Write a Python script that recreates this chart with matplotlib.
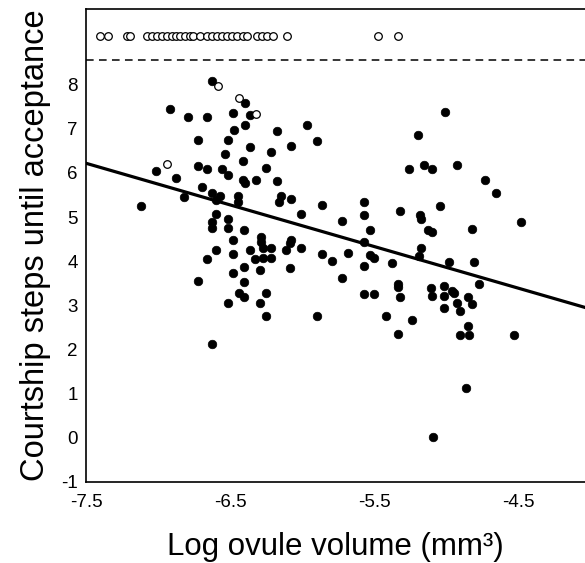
import matplotlib
matplotlib.use("Agg")
import matplotlib.pyplot as plt
import numpy as np

plt.rcParams['font.family'] = ['Liberation Sans', 'DejaVu Sans']
plt.rcParams['axes.unicode_minus'] = False

# Filled circles: females that accepted (log ovule volume, courtship steps)
filled_x = [-6.627, -6.915, -6.790, -6.660, -6.477, -6.396, -6.359, -6.474, -6.396, -6.722,
            -6.512, -6.359, -6.533, -6.412, -7.016, -6.722, -6.660, -6.556, -6.512, -6.877,
            -6.412, -6.396, -6.319, -6.692, -6.822, -6.627, -6.569, -6.447, -7.116, -6.597,
            -6.447, -6.597, -6.512, -6.627, -6.627, -6.512, -6.401, -6.479, -6.597, -6.361,
            -6.660, -6.479, -6.324, -6.401, -6.292, -6.479, -6.722, -6.401, -6.440, -6.401,
            -6.512, -6.292, -6.627, -6.144, -6.158, -6.076, -5.861, -5.569, -5.569, -5.317,
            -5.181, -5.176, -5.042, -6.007, -5.724, -5.528, -5.123, -5.095, -6.287, -6.287,
            -6.076, -6.083, -5.569, -6.269, -6.217, -6.111, -6.007, -6.273, -6.217, -5.861,
            -5.794, -5.678, -5.528, -5.498, -5.373, -5.172, -5.185, -6.081, -5.569, -5.724,
            -5.335, -5.333, -5.104, -6.250, -5.569, -5.498, -5.317, -5.095, -6.250, -5.898,
            -5.417, -5.236, -5.335, -6.176, -5.967, -5.896, -6.078, -6.215, -6.250, -6.176,
            -5.197, -5.259, -5.153, -5.095, -5.007, -4.922, -4.731, -4.655, -4.822, -4.481,
            -4.977, -4.803, -4.769, -5.012, -4.960, -4.942, -5.012, -4.926, -4.849, -4.822,
            -5.012, -4.903, -4.845, -4.903, -4.840, -4.526, -4.863, -5.088]
filled_y = [8.09, 7.45, 7.27, 7.28, 7.37, 7.58, 7.32, 6.97, 7.08, 6.75,
            6.75, 6.58, 6.42, 6.28, 6.05, 6.16, 6.10, 6.10, 5.95, 5.88,
            5.84, 5.77, 5.84, 5.68, 5.45, 5.55, 5.48, 5.48, 5.25, 5.39,
            5.35, 5.08, 4.95, 4.89, 4.76, 4.76, 4.70, 4.48, 4.25, 4.25,
            4.05, 4.17, 4.05, 3.86, 3.80, 3.72, 3.55, 3.52, 3.27, 3.19,
            3.04, 3.04, 2.11, 5.48, 5.35, 5.40, 5.28, 5.33, 5.05, 5.13,
            5.05, 4.95, 5.25, 5.06, 4.91, 4.70, 4.70, 4.67, 4.54, 4.44,
            4.48, 4.40, 4.44, 4.29, 4.29, 4.25, 4.29, 4.06, 4.08, 4.16,
            4.00, 4.19, 4.13, 4.06, 3.96, 4.29, 4.11, 3.85, 3.89, 3.62,
            3.47, 3.42, 3.40, 3.27, 3.26, 3.26, 3.18, 3.21, 2.75, 2.75,
            2.75, 2.67, 2.34, 6.96, 7.09, 6.73, 6.62, 6.47, 6.12, 5.82,
            6.85, 6.08, 6.17, 6.08, 7.39, 6.19, 5.83, 5.55, 4.74, 4.88,
            3.99, 3.97, 3.49, 3.43, 3.33, 3.27, 3.20, 3.05, 3.18, 3.02,
            2.93, 2.86, 2.52, 2.33, 2.33, 2.32, 1.11, 0.01]

# Open circles inside the plot
open_x = [-6.583, -6.435, -6.319, -6.940]
open_y = [7.98, 7.70, 7.33, 6.20]

# Open circles above the dashed line (never accepted)
never_x = [-7.403, -7.349, -7.217, -7.194, -7.074, -7.044, -7.009, -6.974, -6.940, -6.905,
           -6.875, -6.847, -6.813, -6.778, -6.755, -6.708, -6.662, -6.627, -6.592, -6.558,
           -6.523, -6.488, -6.453, -6.412, -6.380, -6.315, -6.280, -6.245, -6.199, -6.106,
           -5.470, -5.335]
never_level = 9.11
cutoff_level = 8.57

# Regression line
line_slope = -0.944
line_intercept = -0.86

xticks = [-7.5, -6.5, -5.5, -4.5]
yticks = [-1, 0, 1, 2, 3, 4, 5, 6, 7, 8]
xlim = (-7.5, -4.035)
ylim = (-1, 9.72)

fig = plt.figure(figsize=(5.85, 5.63), dpi=100)
ax = fig.add_axes([86/585, (563-481.5)/563, 499/585, 472.5/563])

ax.scatter(filled_x, filled_y, s=38, c='black', edgecolors='black', linewidths=0.5, zorder=3)
ax.scatter(open_x, open_y, s=30, facecolors='white', edgecolors='black', linewidths=0.9, zorder=4)
ax.scatter(never_x, [never_level]*len(never_x), s=30, facecolors='white', edgecolors='black',
           linewidths=0.9, zorder=4)
ax.axhline(cutoff_level, color='black', lw=1.1, ls=(0, (5, 3.5)))
xs = np.array(xlim)
ax.plot(xs, line_intercept + line_slope * xs, color='black', lw=2.3, zorder=5)

ax.set_xlim(*xlim)
ax.set_ylim(*ylim)
ax.set_xticks(xticks)
ax.set_xticklabels([f"{v:.1f}" for v in xticks])
ax.set_yticks(yticks)
ax.tick_params(axis='both', length=0, labelsize=13.5)
ax.tick_params(axis='x', pad=9)
ax.tick_params(axis='y', pad=6)
for s in ['left', 'top', 'bottom']:
    ax.spines[s].set_linewidth(1.2)
ax.spines['right'].set_visible(False)

ax.set_xlabel("Log ovule volume (mm\u00b3)", fontsize=22.5, labelpad=15)
ax.set_ylabel("Courtship steps until acceptance", fontsize=23.5, labelpad=7)

fig.savefig("out.png", dpi=100)
